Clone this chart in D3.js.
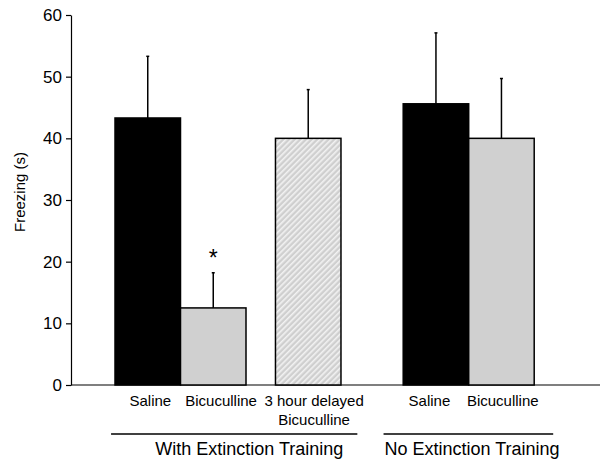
<!DOCTYPE html>
<html>
<head>
<meta charset="utf-8">
<script src="https://cdn.jsdelivr.net/npm/d3@7"></script>
<style>
  body { margin: 0; background: #fff; }
  svg text { font-family: "Liberation Sans", Arial, sans-serif; fill: #000; }
</style>
</head>
<body>
<div id="dataviz"></div>
<script>
// values
var labels = [["Saline"], ["Bicuculline"], ["3 hour delayed", "Bicuculline"], ["Saline"], ["Bicuculline"]];
var means = [43.3, 12.5, 40.0, 45.6, 40.0];
var errors = [10.0, 5.7, 7.9, 11.5, 9.7];
var fills = ["black", "gray", "hatch", "black", "gray"];
var groupNames = ["With Extinction Training", "No Extinction Training"];
var yTicks = [0, 10, 20, 30, 40, 50, 60];

// layout (in bar-width units)
var slots = [0, 1, 2.45, 4.4, 5.4];
var labelNudge = [0.04, 0.12, 0.09, -0.1, 0.02];
var groupSpans = [[-0.06, 3.7], [4.1, 6.69]];
var groupCenters = [2.05, 5.45];

var width = 613, height = 460;

var svg = d3.select("#dataviz")
  .append("svg")
    .attr("width", width)
    .attr("height", height);

var defs = svg.append("defs");
var pat = defs.append("pattern")
  .attr("id", "hatch")
  .attr("patternUnits", "userSpaceOnUse")
  .attr("width", 4)
  .attr("height", 4)
  .attr("patternTransform", "rotate(45)");
pat.append("rect").attr("width", 4).attr("height", 4).attr("fill", "#cfcfcf");
pat.append("rect").attr("x", 0).attr("width", 1.6).attr("height", 4).attr("fill", "#f2f2f2");

var x = d3.scaleLinear()
  .domain([0, 1])
  .range([115, 180.5]);
var bw = x(1) - x(0);

var y = d3.scaleLinear()
  .domain([0, 60])
  .range([385, 15]);

// y axis
var yAxis = svg.append("g")
  .attr("transform", "translate(71,0)")
  .call(d3.axisLeft(y).tickValues(yTicks).tickSize(5).tickSizeOuter(0).tickPadding(4));
yAxis.select(".domain").attr("stroke", "#000").attr("stroke-width", 1.2);
yAxis.selectAll(".tick line").attr("stroke", "#000").attr("stroke-width", 1.2);
yAxis.selectAll(".tick text")
  .style("font-family", "'Liberation Sans', Arial, sans-serif")
  .style("font-size", "17px")
  .attr("fill", "#000");

svg.append("text")
  .attr("transform", "rotate(-90)")
  .attr("x", -192)
  .attr("y", 25)
  .style("text-anchor", "middle")
  .style("font-size", "15px")
  .text("Freezing (s)");

// baseline
svg.append("line")
  .attr("x1", 71)
  .attr("x2", 600)
  .attr("y1", y(0))
  .attr("y2", y(0))
  .attr("stroke", "#000")
  .attr("stroke-width", 1.2);

// error bars
var err = svg.append("g");
means.forEach(function(m, i) {
  var cx = x(slots[i] + 0.5);
  err.append("line")
    .attr("x1", cx).attr("x2", cx)
    .attr("y1", y(m)).attr("y2", y(m + errors[i]))
    .attr("stroke", "#000")
    .attr("stroke-width", 1.5);
  err.append("line")
    .attr("x1", cx - 1.5).attr("x2", cx + 1.5)
    .attr("y1", y(m + errors[i])).attr("y2", y(m + errors[i]))
    .attr("stroke", "#000")
    .attr("stroke-width", 1.5);
});

// bars
svg.append("g")
  .selectAll("rect")
  .data(means)
  .enter()
  .append("rect")
    .attr("x", function(d, i) { return x(slots[i]); })
    .attr("y", function(d) { return y(d); })
    .attr("width", bw)
    .attr("height", function(d) { return y(0) - y(d); })
    .attr("fill", function(d, i) {
      if (fills[i] == "black") return "#000";
      if (fills[i] == "gray") return "#d0d0d0";
      return "url(#hatch)";
    })
    .attr("stroke", "#000")
    .attr("stroke-width", 1.5);

// significance mark
svg.append("text")
  .attr("x", x(slots[1] + 0.5))
  .attr("y", y(means[1] + errors[1]) - 7)
  .style("text-anchor", "middle")
  .style("font-size", "23px")
  .text("*");

// category labels
labels.forEach(function(lines, i) {
  var t = svg.append("text")
    .attr("x", x(slots[i] + 0.5 + labelNudge[i]))
    .attr("y", 406)
    .style("text-anchor", "middle")
    .style("font-size", "15px");
  lines.forEach(function(s, j) {
    t.append("tspan")
      .attr("x", x(slots[i] + 0.5 + labelNudge[i]))
      .attr("dy", j == 0 ? 0 : 19)
      .text(s);
  });
});

// group lines and names
groupNames.forEach(function(g, i) {
  svg.append("line")
    .attr("x1", x(groupSpans[i][0]))
    .attr("x2", x(groupSpans[i][1]))
    .attr("y1", 434)
    .attr("y2", 434)
    .attr("stroke", "#000")
    .attr("stroke-width", 1.5);
  svg.append("text")
    .attr("x", x(groupCenters[i]))
    .attr("y", 455)
    .style("text-anchor", "middle")
    .style("font-size", "18px")
    .text(g);
});
</script>
</body>
</html>
